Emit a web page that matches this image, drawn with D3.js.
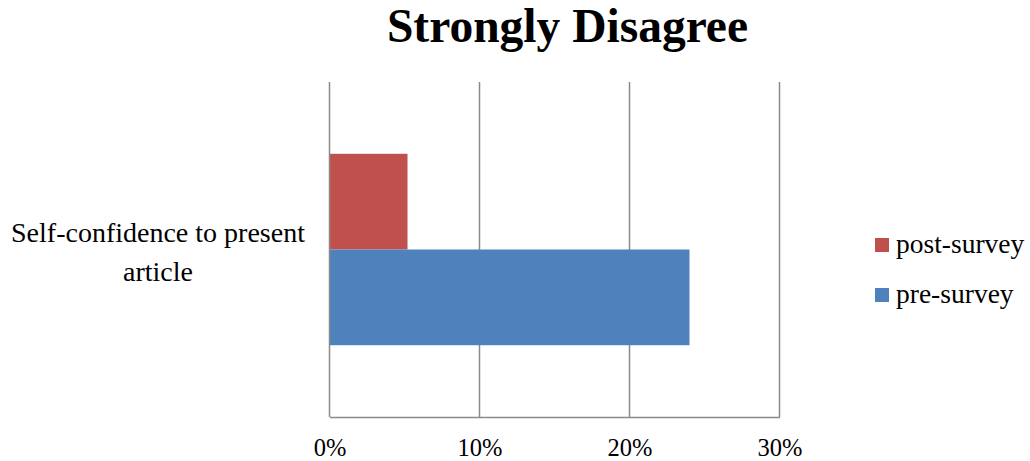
<!DOCTYPE html>
<html>
<head>
<meta charset="utf-8">
<script src="https://cdn.jsdelivr.net/npm/d3@7/dist/d3.min.js"></script>
<style>
  html, body { margin: 0; padding: 0; background: #ffffff; }
  svg text { font-family: "Liberation Serif", "Times New Roman", serif; fill: #000; }
</style>
</head>
<body>
<svg id="chart" width="1030" height="461"></svg>
<script>
// Survey responses: share answering "Strongly Disagree"
const categories = ["Self-confidence to present article"];
const categoryLines = [["Self-confidence to present", "article"]];
const seriesNames = ["post-survey", "pre-survey"];
const postSurvey = [0.052];
const preSurvey = [0.24];
const seriesValues = [postSurvey, preSurvey];
const seriesColors = ["#C0504D", "#4F81BD"];
const tickValues = [0, 0.1, 0.2, 0.3];
const tickLabels = ["0%", "10%", "20%", "30%"];
const chartTitle = "Strongly Disagree";

const svg = d3.select("#chart");
const plot = { left: 329.5, right: 779.5, top: 82, bottom: 417 };

const x = d3.scaleLinear().domain([0, 0.3]).range([plot.left, plot.right]);
const y = d3.scaleBand().domain(categories).range([plot.top, plot.bottom]).padding(0);
const ySeries = d3.scaleBand().domain(seriesNames).range([0, y.bandwidth()])
  .paddingInner(0).paddingOuter(0.75);

// vertical gridlines
svg.append("g")
  .selectAll("line")
  .data(tickValues.slice(1))
  .join("line")
  .attr("x1", d => x(d)).attr("x2", d => x(d))
  .attr("y1", plot.top).attr("y2", plot.bottom)
  .attr("stroke", "#8a8a8a").attr("stroke-width", 1.5);

// bars
const rows = [];
categories.forEach((c, i) => {
  seriesNames.forEach((s, j) => rows.push({ cat: c, series: s, value: seriesValues[j][i], color: seriesColors[j] }));
});
svg.append("g")
  .selectAll("rect")
  .data(rows)
  .join("rect")
  .attr("x", x(0))
  .attr("y", d => y(d.cat) + ySeries(d.series))
  .attr("width", d => x(d.value) - x(0))
  .attr("height", ySeries.bandwidth())
  .attr("fill", d => d.color);

// axis lines (left and bottom)
svg.append("line")
  .attr("x1", x(0)).attr("x2", x(0)).attr("y1", plot.top).attr("y2", plot.bottom)
  .attr("stroke", "#8a8a8a").attr("stroke-width", 1.5);

const xAxis = d3.axisBottom(x)
  .tickValues(tickValues)
  .tickFormat((d, i) => tickLabels[i])
  .tickSize(0)
  .tickPadding(22);
const gx = svg.append("g")
  .attr("transform", `translate(0,${plot.bottom})`)
  .call(xAxis);
gx.select(".domain").attr("stroke", "#8a8a8a").attr("stroke-width", 1.5);
gx.selectAll("text")
  .attr("font-size", 24.5)
  .attr("fill", "#000");

// category label
categories.forEach((c, i) => {
  const cy = y(c) + y.bandwidth() / 2;
  const t = svg.append("text")
    .attr("text-anchor", "middle")
    .attr("font-size", 28);
  categoryLines[i].forEach((line, k) => {
    t.append("tspan").attr("x", 158).attr("y", cy - 7.5 + k * 39).text(line);
  });
});

// title
svg.append("text")
  .attr("x", 567.5)
  .attr("y", 42)
  .attr("text-anchor", "middle")
  .attr("font-size", 47.5)
  .attr("font-weight", "bold")
  .text(chartTitle);

// legend
const legend = svg.append("g")
  .selectAll("g")
  .data(seriesNames)
  .join("g")
  .attr("transform", (d, i) => `translate(875,${238 + i * 50})`);
legend.append("rect")
  .attr("width", 14).attr("height", 14)
  .attr("fill", (d, i) => seriesColors[i]);
legend.append("text")
  .attr("x", 21).attr("y", 15)
  .attr("font-size", 27.5)
  .text(d => d);
</script>
</body>
</html>
